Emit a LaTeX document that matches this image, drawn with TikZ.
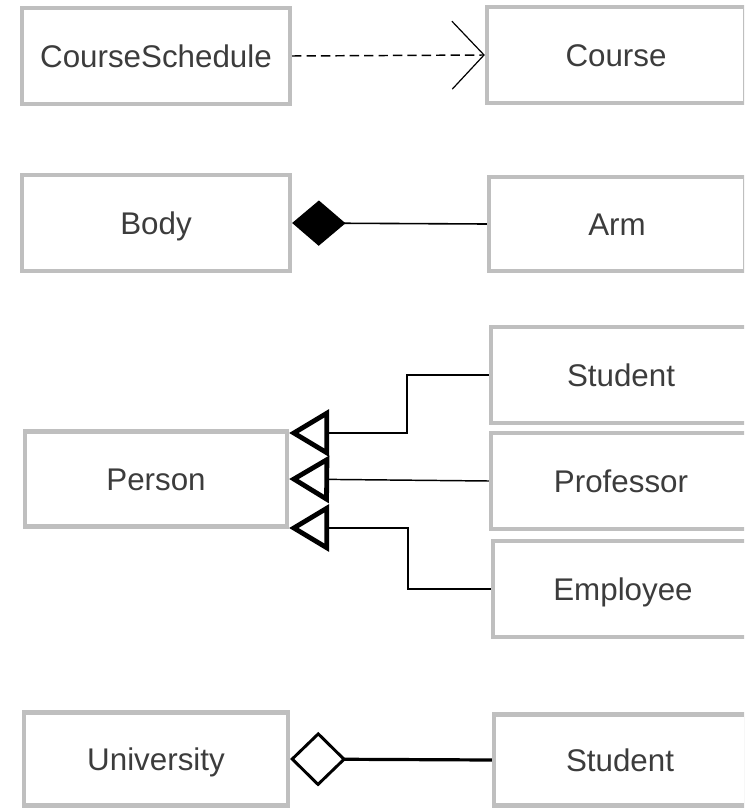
\documentclass[tikz,border=0pt]{standalone}
\usepackage{fontspec}
\setmainfont{Liberation Sans}
\usetikzlibrary{arrows.meta,calc}

\definecolor{boxgray}{HTML}{BFBFBF}
\definecolor{textgray}{HTML}{3C3C3C}

\tikzset{
  umlbox/.style={draw=boxgray, line width=3.2pt, text=textgray,
    font=\fontsize{23.5}{28}\selectfont, text height=16.8pt, text depth=0pt,
    minimum width=268*0.75pt, minimum height=96*0.75pt, inner sep=0pt},
  depend/.style={dashed, dash pattern=on 7pt off 3.8pt, line width=1.1pt,
    -{Straight Barb[length=24pt, width=51pt, line width=0.9pt]}},
  compose/.style={line width=1.2pt, -{Diamond[length=40pt, width=34pt]}},
  gen/.style={line width=1.1pt,
    -{Triangle[open, length=30pt, width=35pt, line width=3.6pt]}},
  aggr/.style={line width=2.4pt,
    -{Diamond[open, length=42pt, width=41pt, line width=2.2pt]}}
}

\begin{document}
\begin{tikzpicture}[x=0.75pt, y=-0.75pt]

  \useasboundingbox (0,0) rectangle (744,809);
  \clip (0,0) rectangle (744,809);

  %left column
  \node[umlbox] (sched) at (156,56) {CourseSchedule};
  \node[umlbox] (body) at (156,223) {Body};
  \node[umlbox, minimum width=262*0.75pt, minimum height=95*0.75pt] (person) at (156,479) {Person};
  \node[umlbox, minimum width=264*0.75pt, minimum height=93*0.75pt] (univ) at (156,759) {University};

  %right column (cut at the page edge)
  \node[umlbox, minimum width=258*0.75pt] (course) at (616,55) {Course};
  \node[umlbox, minimum width=256*0.75pt, minimum height=94*0.75pt] (arm) at (617,224) {Arm};
  \node[umlbox, minimum width=260*0.75pt] (student) at (621,375) {Student};
  \node[umlbox, minimum width=260*0.75pt] (professor) at (621,481) {Professor};
  \node[umlbox, minimum width=260*0.75pt] (employee) at (623,589) {Employee};
  \node[umlbox, minimum width=252*0.75pt, minimum height=91*0.75pt] (student2) at (620,760) {Student};

  % tips of the generalizations
  \coordinate (genA) at ($(person.east)+(0,-46)$);
  \coordinate (genB) at (person.east);
  \coordinate (genC) at ($(person.east)+(0,49)$);

  %connectors
  \draw[depend] (sched.east) -- (course.west);
  \draw[compose] (arm.west) -- (body.east);
  \draw[gen] (student.west) -- ++(-82,0) |- (genA);
  \draw[gen] (professor.west) -- (genB);
  \draw[gen] (employee.west) -- ++(-83,0) |- (genC);
  \draw[aggr] (student2.west) -- (univ.east);

\end{tikzpicture}
\end{document}
